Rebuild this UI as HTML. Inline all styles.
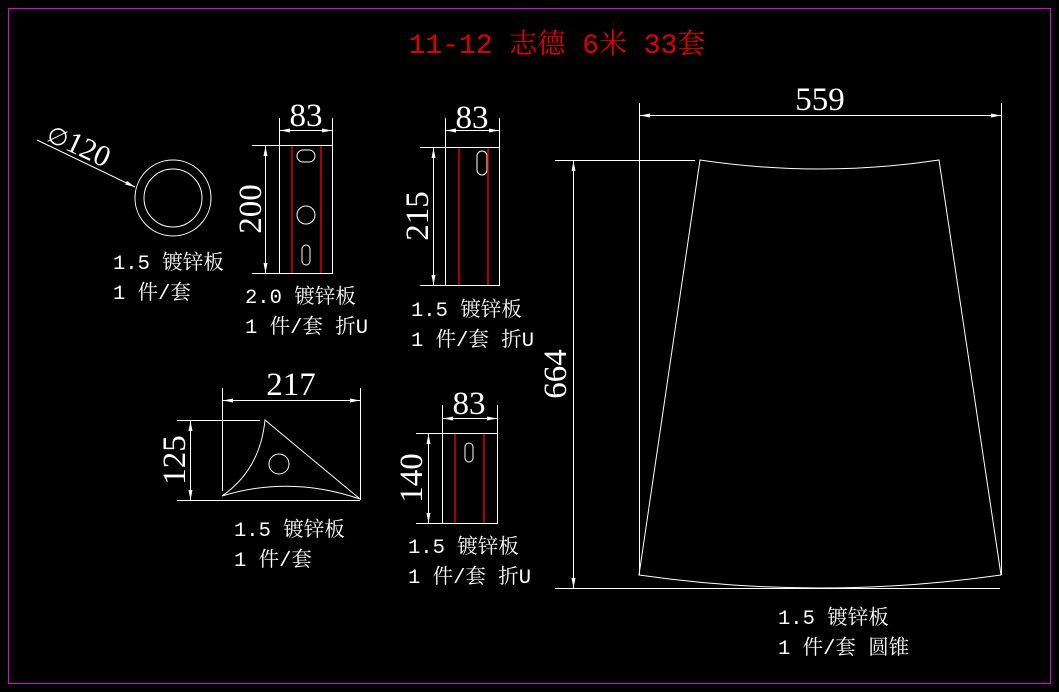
<!DOCTYPE html>
<html><head><meta charset="utf-8"><style>
html,body{margin:0;padding:0;background:#000;}
svg{display:block;}
.t{font-family:"Liberation Mono","Noto Serif CJK SC",monospace;fill:#fff;font-size:20.5px;}
.d{font-family:"Liberation Serif",serif;fill:#fff;}
</style></head><body>
<svg width="1059" height="692" viewBox="0 0 1059 692" xmlns="http://www.w3.org/2000/svg">
<defs>
<marker id="a" viewBox="0 0 10 4" refX="10" refY="2" markerWidth="10" markerHeight="4" markerUnits="userSpaceOnUse" orient="auto-start-reverse"><path d="M0,0 L10,2 L0,4 Z" fill="#fff"/></marker>
</defs>
<rect x="0" y="0" width="1059" height="692" fill="#000"/>
<rect x="8.5" y="8.5" width="1042" height="675" fill="none" stroke="#e000e0" stroke-width="1"/>
<text x="557" y="53" text-anchor="middle" font-family="'Liberation Mono','Noto Serif CJK SC',monospace" font-size="28" fill="#e00000">11-12 志德 6米 33套</text>

<g stroke="#fff" stroke-width="1" fill="none">
<circle cx="173" cy="198" r="38"/>
<circle cx="173" cy="198" r="29"/>
<line x1="37" y1="140" x2="135" y2="187" marker-end="url(#a)"/>
<rect x="279.5" y="145.5" width="53" height="128"/>
<line x1="279.5" y1="118" x2="279.5" y2="145"/><line x1="332.5" y1="118" x2="332.5" y2="145"/>
<line x1="280" y1="130.5" x2="332" y2="130.5" marker-start="url(#a)" marker-end="url(#a)"/>
<line x1="252" y1="145.5" x2="279" y2="145.5"/><line x1="252" y1="273.5" x2="279" y2="273.5"/>
<line x1="265.5" y1="146" x2="265.5" y2="273" marker-start="url(#a)" marker-end="url(#a)"/>
<rect x="297" y="150" width="18" height="12" rx="6"/>
<circle cx="306" cy="215" r="9"/>
<rect x="302" y="245" width="8" height="20" rx="4"/>
<rect x="445.5" y="147.5" width="54" height="138"/>
<line x1="445.5" y1="118" x2="445.5" y2="147"/><line x1="499.5" y1="118" x2="499.5" y2="147"/>
<line x1="446" y1="130.5" x2="499" y2="130.5" marker-start="url(#a)" marker-end="url(#a)"/>
<line x1="420" y1="147.5" x2="445" y2="147.5"/><line x1="420" y1="285.5" x2="445" y2="285.5"/>
<line x1="433.5" y1="148" x2="433.5" y2="285" marker-start="url(#a)" marker-end="url(#a)"/>
<rect x="477" y="151" width="10" height="24" rx="5"/>
<line x1="222.5" y1="388" x2="222.5" y2="491"/><line x1="360.5" y1="388" x2="360.5" y2="500"/>
<line x1="223" y1="400.5" x2="360" y2="400.5" marker-start="url(#a)" marker-end="url(#a)"/>
<line x1="177" y1="420.5" x2="260" y2="420.5"/><line x1="177" y1="500.5" x2="360" y2="500.5"/>
<line x1="190.5" y1="421" x2="190.5" y2="500" marker-start="url(#a)" marker-end="url(#a)"/>
<path d="M265,420 L360,499 Q290,475 222,496 Q260,470 265,420 Z"/>
<circle cx="279" cy="464" r="10"/>
<rect x="442.5" y="433.5" width="55" height="90"/>
<line x1="442.5" y1="405" x2="442.5" y2="433"/><line x1="497.5" y1="405" x2="497.5" y2="433"/>
<line x1="443" y1="418.5" x2="497" y2="418.5" marker-start="url(#a)" marker-end="url(#a)"/>
<line x1="416" y1="433.5" x2="442" y2="433.5"/><line x1="416" y1="523.5" x2="442" y2="523.5"/>
<line x1="428.5" y1="434" x2="428.5" y2="523" marker-start="url(#a)" marker-end="url(#a)"/>
<rect x="465" y="443" width="8" height="19" rx="4"/>
<line x1="639.5" y1="103" x2="639.5" y2="575"/><line x1="1001.5" y1="103" x2="1001.5" y2="575"/>
<line x1="640" y1="115.5" x2="1001" y2="115.5" marker-start="url(#a)" marker-end="url(#a)"/>
<line x1="555" y1="160.5" x2="695" y2="160.5"/><line x1="555" y1="588.5" x2="1000" y2="588.5"/>
<line x1="573.5" y1="161" x2="573.5" y2="588" marker-start="url(#a)" marker-end="url(#a)"/>
<path d="M700,160 Q819.5,178 939,160 L1001,575 Q820,601 639,575 Z"/>
</g>
<g stroke="#e00000" stroke-width="1.5">
<line x1="292" y1="146" x2="292" y2="273"/><line x1="321" y1="146" x2="321" y2="273"/>
<line x1="459" y1="148" x2="459" y2="285"/><line x1="488" y1="148" x2="488" y2="285"/>
<line x1="455" y1="434" x2="455" y2="523"/><line x1="484" y1="434" x2="484" y2="523"/>
</g>

<text class="d" font-size="30" transform="translate(45,140) rotate(25)"><tspan font-size="24">∅</tspan>120</text>
<text class="d" font-size="33" x="306" y="126" text-anchor="middle">83</text>
<text class="d" font-size="33" transform="translate(261,209) rotate(-90)" text-anchor="middle">200</text>
<text class="d" font-size="33" x="472" y="128" text-anchor="middle">83</text>
<text class="d" font-size="33" transform="translate(428,216) rotate(-90)" text-anchor="middle">215</text>
<text class="d" font-size="33" x="291" y="395" text-anchor="middle">217</text>
<text class="d" font-size="33" transform="translate(185,460) rotate(-90)" text-anchor="middle">125</text>
<text class="d" font-size="33" x="469" y="414" text-anchor="middle">83</text>
<text class="d" font-size="33" transform="translate(422,478) rotate(-90)" text-anchor="middle">140</text>
<text class="d" font-size="33" x="820" y="110" text-anchor="middle">559</text>
<text class="d" font-size="33" transform="translate(566,374) rotate(-90)" text-anchor="middle">664</text>

<text class="t" x="113" y="269">1.5 镀锌板</text>
<text class="t" x="113" y="299">1 件/套</text>
<text class="t" x="245" y="303">2.0 镀锌板</text>
<text class="t" x="245" y="333">1 件/套 折U</text>
<text class="t" x="411" y="316">1.5 镀锌板</text>
<text class="t" x="411" y="346">1 件/套 折U</text>
<text class="t" x="234" y="536">1.5 镀锌板</text>
<text class="t" x="234" y="566">1 件/套</text>
<text class="t" x="408" y="553">1.5 镀锌板</text>
<text class="t" x="408" y="583">1 件/套 折U</text>
<text class="t" x="778" y="624">1.5 镀锌板</text>
<text class="t" x="778" y="654">1 件/套 圆锥</text>
</svg>
</body></html>
